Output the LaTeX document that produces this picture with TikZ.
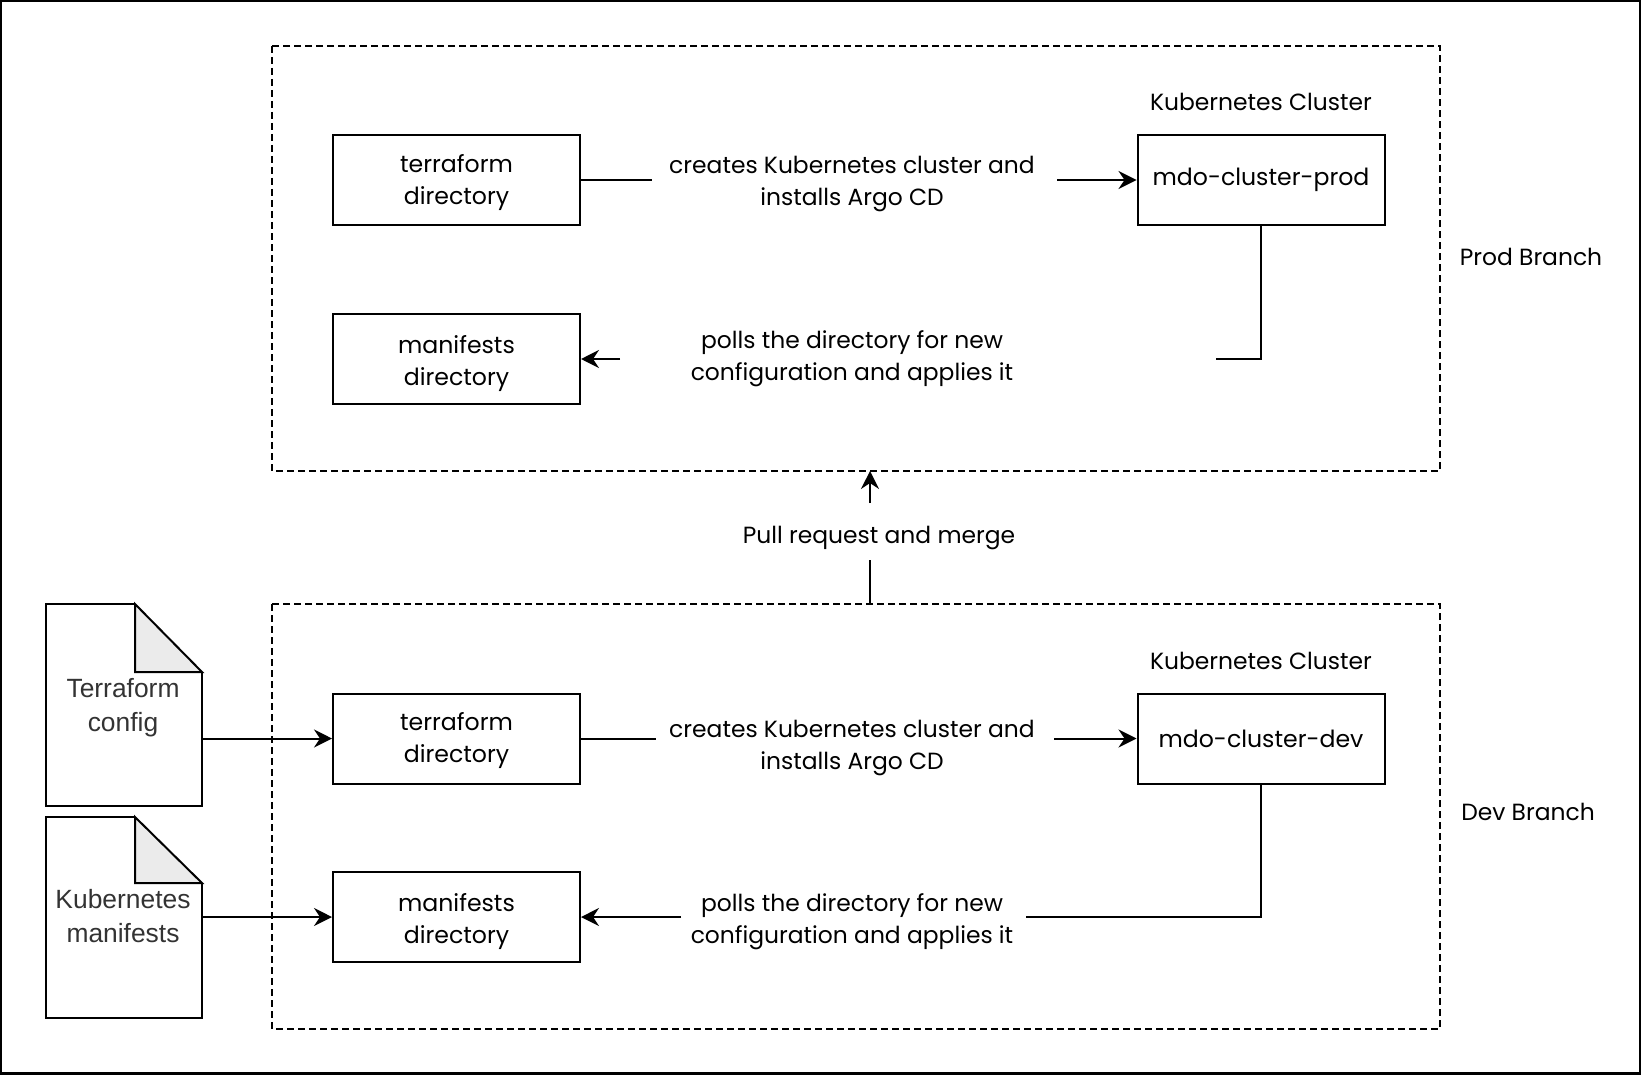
\documentclass[tikz,border=0pt]{standalone}
\usepackage{fontspec}
\setmainfont{Poppins}
\newfontfamily\docfont{Liberation Sans}
\usetikzlibrary{arrows.meta}
\newcommand{\nudged}[2]{\raisebox{#1}[\height][\depth]{\begin{tabular}{@{}c@{}}#2\end{tabular}}}
\tikzset{
  dirbox/.style={draw=black, fill=white, line width=1pt, minimum width=123.5pt, minimum height=45pt, inner sep=0pt, font=\fontsize{11.8}{16}\selectfont},
  txt/.style={inner sep=0pt, align=center, font=\fontsize{11.7}{16}\selectfont},
  doclabel/.style={inner sep=0pt, align=center, font=\docfont\fontsize{13.2}{17}\selectfont, text=black!80},
  branch/.style={draw=black, line width=0.75pt, dash pattern=on 3.5pt off 2pt},
  link/.style={draw=black, line width=1pt},
  arrowlink/.style={link, -{Stealth[length=9pt, width=9pt, inset=3pt]}},
  docshape/.style={draw=black, line width=1pt, line join=miter},
}
\begin{document}
\begin{tikzpicture}[x=0.5pt, y=0.5pt]

  \useasboundingbox (0, 0) rectangle (1641, -1075);
  \draw[black, line width=1.25pt] (1, -1) rectangle (1640, -1073.5);

  \draw[branch] (272, -46) rectangle (1440, -471);
  \draw[branch] (272, -604) rectangle (1440, -1029);

  \node[dirbox] (tfprod) at (456.5, -180) {\nudged{-1pt}{terraform\\directory}};
  \node[dirbox] (mfprod) at (456.5, -359) {\nudged{-2pt}{manifests\\directory}};
  \node[dirbox] (clusterprod) at (1261, -180) {mdo-cluster-prod};
  \node[dirbox] (tfdev) at (456.5, -738.5) {\nudged{-1pt}{terraform\\directory}};
  \node[dirbox] (mfdev) at (456.5, -917) {\nudged{-2pt}{manifests\\directory}};
  \node[dirbox] (clusterdev) at (1261, -738.5) {mdo-cluster-dev};

  \node[txt] (createsprod) at (852, -184) {creates Kubernetes cluster and\\installs Argo CD};
  \node[txt] (pollsprod) at (852, -359) {polls the directory for new\\configuration and applies it};
  \node[txt] (createsdev) at (852, -748) {creates Kubernetes cluster and\\installs Argo CD};
  \node[txt] (pollsdev) at (852, -922) {polls the directory for new\\configuration and applies it};
  \node[txt] (pullmerge) at (879, -538) {Pull request and merge};

  \node[txt] (labelprod) at (1261, -102) {Kubernetes Cluster};
  \node[txt] (labeldev) at (1261, -661) {Kubernetes Cluster};
  \node[txt] (prodbranch) at (1531, -256.5) {Prod Branch};
  \node[txt] (devbranch) at (1528, -812) {Dev Branch};

  \draw[docshape] (135, -604) -- (46, -604) -- (46, -806) -- (202, -806) -- (202, -672);
  \draw[docshape, fill=black!8] (135, -604) -- (202, -672) -- (135, -672) -- cycle;
  \draw[docshape] (135, -817) -- (46, -817) -- (46, -1018) -- (202, -1018) -- (202, -883);
  \draw[docshape, fill=black!8] (135, -817) -- (202, -883) -- (135, -883) -- cycle;
  \node[doclabel] (tfdoc) at (123, -708) {Terraform\\config};
  \node[doclabel] (mfdoc) at (123, -916) {Kubernetes\\manifests};

  \coordinate (tfdocout) at (202, -738.5);
  \coordinate (mfdocout) at (202, -917);
  \coordinate (createsprodleft) at (652, -180);
  \coordinate (createsprodright) at (1057, -180);
  \coordinate (pollsprodleft) at (620, -359);
  \coordinate (pollsprodright) at (1216, -359);
  \coordinate (createsdevleft) at (656, -738.5);
  \coordinate (createsdevright) at (1054, -738.5);
  \coordinate (pollsdevleft) at (681, -917);
  \coordinate (pollsdevright) at (1026, -917);
  \coordinate (prodturn) at (1261, -359);
  \coordinate (devturn) at (1261, -917);
  \coordinate (devtop) at (870, -604);
  \coordinate (pulllow) at (870, -560);
  \coordinate (pullhigh) at (870, -503);
  \coordinate (prodbottom) at (870, -471);

  \draw[link] (tfprod) -- (createsprodleft);
  \draw[arrowlink] (createsprodright) -- (clusterprod);
  \draw[link] (clusterprod) -- (prodturn) -- (pollsprodright);
  \draw[arrowlink] (pollsprodleft) -- (mfprod);
  \draw[link] (tfdev) -- (createsdevleft);
  \draw[arrowlink] (createsdevright) -- (clusterdev);
  \draw[link] (clusterdev) -- (devturn) -- (pollsdevright);
  \draw[arrowlink] (pollsdevleft) -- (mfdev);
  \draw[arrowlink] (tfdocout) -- (tfdev);
  \draw[arrowlink] (mfdocout) -- (mfdev);
  \draw[link] (devtop) -- (pulllow);
  \draw[arrowlink] (pullhigh) -- (prodbottom);

\end{tikzpicture}
\end{document}
